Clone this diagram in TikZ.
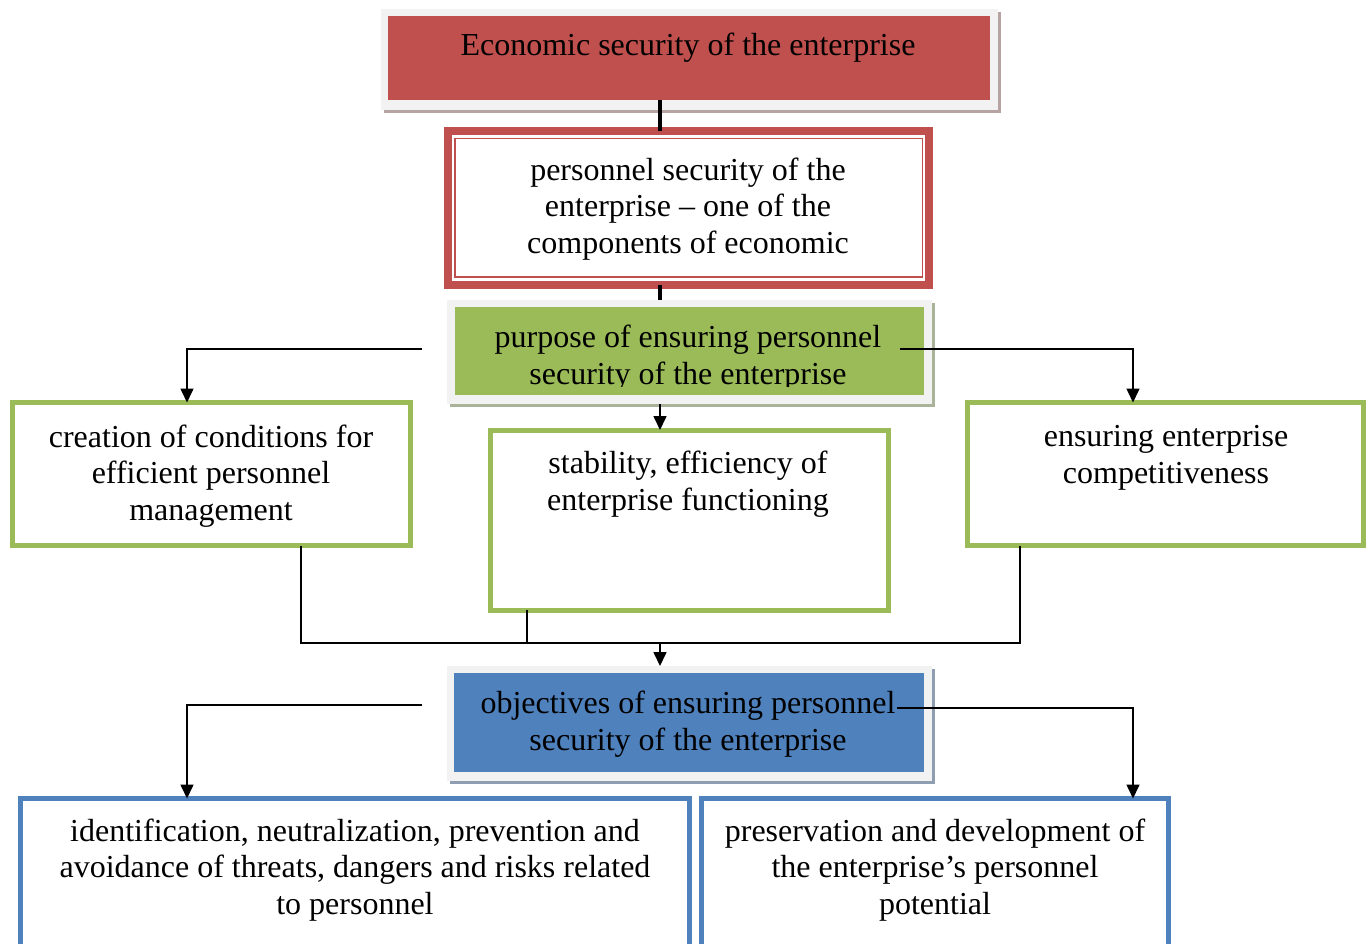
\documentclass[tikz,border=0pt]{standalone}
\usepackage{fontspec}
\setmainfont{Liberation Serif}
\usetikzlibrary{arrows.meta,shadows}
\definecolor{accred}{HTML}{C0504D}
\definecolor{accgreen}{HTML}{9BBB59}
\definecolor{accblue}{HTML}{4F81BD}
\definecolor{panel}{HTML}{F2F2F2}
\definecolor{shred}{HTML}{B8A3A3}
\definecolor{shgreen}{HTML}{A9B39A}
\definecolor{shblue}{HTML}{8E9DB0}
\begin{document}
\begin{tikzpicture}[x=0.5pt,y=-0.5pt,
  every node/.style={inner sep=0pt,outer sep=0pt},
  panelbox/.style={fill=panel,anchor=north west,
    drop shadow={shadow xshift=1.6pt,shadow yshift=-1.6pt,fill=#1,opacity=1}},
  fillbox/.style={fill=#1,anchor=north west},
  linebox/.style={draw=#1,line width=2.5pt,fill=white,anchor=north west},
  txt/.style={font=\fontsize{16pt}{18.25pt}\selectfont,align=center},
  conn/.style={line width=0.8pt},
  arr/.style={conn,-{Triangle[length=7pt,width=6.5pt]}},
  spineline/.style={line width=2.2pt}]
\useasboundingbox (0,0) rectangle (1366,943);

% guide columns for the connectors
\coordinate (spine) at (660,0);
\coordinate (colL) at (187,0);
\coordinate (colR) at (1133,0);
\coordinate (cL) at (301,0);
\coordinate (cM) at (527,0);
\coordinate (cR) at (1020,0);
\coordinate (bus) at (0,643);

% top: economic security
\node[panelbox=shred,minimum width=308.5pt,minimum height=50.5pt] (topframe) at (381,9) {};
\node[fillbox=accred,minimum width=301pt,minimum height=42pt] (top) at (388,16) {};
\node[txt] (toptext) at (688,48) {Economic security of the enterprise};

% personnel security: double red border
\node[draw=accred,line width=4pt,fill=white,anchor=north west,
      minimum width=240.5pt,minimum height=77pt] (pers) at (448,131) {};
\node[draw=accred,line width=0.9pt,anchor=north west,
      minimum width=233.75pt,minimum height=69.25pt] (persin) at (455,138.5) {};
\node[txt] (perstext) at (688,209) {personnel security of the\\enterprise -- one of the\\components of economic};

% purpose (green panel)
\node[panelbox=shgreen,minimum width=242.5pt,minimum height=52pt] (gframe) at (447,300) {};
\node[fillbox=accgreen,minimum width=234.5pt,minimum height=44pt] (gfill) at (455,307) {};
\begin{scope}
  \clip (455,307) rectangle (924,386);
  \node[txt] (gtext) at (688,358) {purpose of ensuring personnel\\security of the enterprise};
\end{scope}

% three green outlined boxes
\node[linebox=accgreen,minimum width=199pt,minimum height=71.5pt] (lbox) at (12.5,402.5) {};
\node[txt] (ltext) at (211,476) {creation of conditions for\\efficient personnel\\management};
\node[linebox=accgreen,minimum width=199pt,minimum height=90pt] (mbox) at (490,430) {};
\node[txt] (mtext) at (688,484) {stability, efficiency of\\enterprise functioning};
\node[linebox=accgreen,minimum width=198pt,minimum height=71.5pt] (rbox) at (967.5,402.5) {};
\node[txt] (rtext) at (1166,458) {ensuring enterprise\\competitiveness};

% objectives (blue panel)
\node[panelbox=shblue,minimum width=242.5pt,minimum height=57.5pt] (bframe) at (447,666) {};
\node[fillbox=accblue,minimum width=235pt,minimum height=49.5pt] (bfill) at (454,673) {};
\node[txt] (btext) at (688,724) {objectives of ensuring personnel\\security of the enterprise};

% two blue outlined boxes
\node[linebox=accblue,minimum width=334.5pt,minimum height=90.75pt] (blbox) at (20.5,798.5) {};
\node[txt] (bltext) at (355,870) {identification, neutralization, prevention and\\avoidance of threats, dangers and risks related\\to personnel};
\node[linebox=accblue,minimum width=233.5pt,minimum height=90.75pt] (brbox) at (701.5,798.5) {};
\node[txt] (brtext) at (935,870) {preservation and development of\\the enterprise’s personnel\\potential};

% connectors
\draw[spineline] (top.south -| spine) -- (pers.north -| spine);
\draw[spineline] (pers.south -| spine) -- (gframe.north -| spine);
\coordinate (gL) at (422,349);
\coordinate (gR) at (900,349);
\draw[arr] (gL) -| (colL |- lbox.north);
\draw[arr] (gR) -| (colR |- rbox.north);
\draw[arr] (gframe.south -| spine) -- (mbox.north -| spine);
\draw[conn] (lbox.south -| cL) -- (cL |- bus) -- (cR |- bus) -- (rbox.south -| cR);
\draw[conn] (mbox.south -| cM) -- (cM |- bus);
\draw[arr] (spine |- bus) -- (bframe.north -| spine);
\coordinate (bL) at (422,705);
\coordinate (bR) at (897,708);
\draw[arr] (bL) -| (colL |- blbox.north);
\draw[arr] (bR) -| (colR |- brbox.north);
\end{tikzpicture}
\end{document}
